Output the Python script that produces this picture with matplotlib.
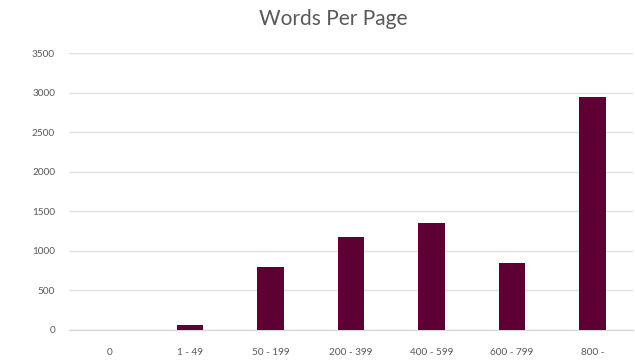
import matplotlib
matplotlib.use("Agg")
import matplotlib.pyplot as plt

# Words-per-page distribution
categories = ["0", "1 - 49", "50 - 199", "200 - 399", "400 - 599", "600 - 799", "800 -"]
page_counts = [0, 60, 795, 1180, 1350, 845, 2950]
y_ticks = [0, 500, 1000, 1500, 2000, 2500, 3000, 3500]

plt.rcParams["font.family"] = ["Lato", "DejaVu Sans"]

fig = plt.figure(figsize=(6.35, 3.61), dpi=100)
ax = fig.add_axes([0.1087, 0.0859, 0.888, 0.7665])

x = list(range(len(categories)))
ax.bar(x, page_counts, width=0.33, color="#5E0033", zorder=3)

ax.set_xlim(-0.5, len(categories) - 0.5)
ax.set_ylim(0, 3500)
ax.set_yticks(y_ticks)
ax.set_yticklabels([str(v) for v in y_ticks])
ax.set_xticks(x)
ax.set_xticklabels(categories)

ax.grid(axis="y", color="#E0E0E0", linewidth=1.0, zorder=0)
ax.set_axisbelow(True)
for side in ["top", "right", "left"]:
    ax.spines[side].set_visible(False)
ax.spines["bottom"].set_color("#D9D9D9")
ax.spines["bottom"].set_linewidth(1.0)

ax.tick_params(axis="both", length=0, labelsize=7.2, labelcolor="#595959")
ax.tick_params(axis="y", pad=10)
ax.tick_params(axis="x", pad=13)

fig.text(0.525, 0.948, "Words Per Page", ha="center", va="center",
         fontsize=15, color="#595959")

fig.savefig("out.png", dpi=100, facecolor="white")
